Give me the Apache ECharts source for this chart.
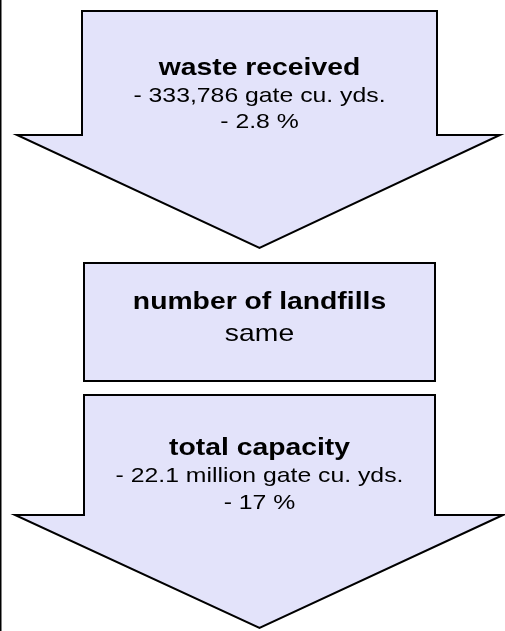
<!doctype html>
<html lang="en">
<head>
    <meta charset="UTF-8">
    <script src="https://cdn.jsdelivr.net/npm/echarts@6/dist/echarts.min.js"></script>
    <title>landfill summary</title>
    <style>
        html, body { margin: 0; padding: 0; background: #fff; }
    </style>
</head>
<body>
<div id="main" style="width: 505px;height:631px;"></div>
</body>
<script>
    // stage texts
    var stageTitles = ['waste received', 'number of landfills', 'total capacity'];
    var stageLines = [
        ['- 333,786 gate cu. yds.', '- 2.8 %'],
        ['same'],
        ['- 22.1 million gate cu. yds.', '- 17 %']
    ];
    var stageShapes = ['arrow', 'box', 'arrow'];

    // shape layout in pixels (grid == whole canvas)
    var layouts = [
        {top: 11, shoulder: 135, bottom: 248, l: 82, r: 437, headL: 17, headR: 500, titleBase: 77, lineBase: [104, 130], lineSize: 21},
        {top: 263, bottom: 381, l: 84, r: 435, titleBase: 311, lineBase: [343], lineSize: 24},
        {top: 395, shoulder: 515, bottom: 628, l: 84, r: 435, headL: 15, headR: 503, titleBase: 457, lineBase: [484, 510.5], lineSize: 21}
    ];

    var fillColor = '#e3e3fa';
    var stretch = 1.18;
    var font = 'Arial, "Liberation Sans", sans-serif';

    var myChart = echarts.init(document.getElementById('main'));

    function textEl(str, cx, base, size, bold, api) {
        var p = api.coord([cx, base - size * 0.35]);
        return {
            type: 'text',
            x: p[0],
            y: p[1],
            scaleX: stretch,
            style: {
                text: str,
                x: 0,
                y: 0,
                fill: '#000',
                font: (bold ? 'bold ' : '') + size + 'px ' + font,
                align: 'center',
                verticalAlign: 'middle'
            }
        };
    }

    function renderItem(params, api) {
        var i = params.dataIndex;
        var lay = layouts[i];
        var pts;
        if (stageShapes[i] === 'arrow') {
            var cx = (lay.headL + lay.headR) / 2;
            pts = [
                [lay.l, lay.top], [lay.r, lay.top], [lay.r, lay.shoulder],
                [lay.headR, lay.shoulder], [(lay.l + lay.r) / 2, lay.bottom],
                [lay.headL, lay.shoulder], [lay.l, lay.shoulder]
            ];
        } else {
            pts = [[lay.l, lay.top], [lay.r, lay.top], [lay.r, lay.bottom], [lay.l, lay.bottom]];
        }
        var pix = pts.map(function (p) { return api.coord(p); });
        var mid = (lay.l + lay.r) / 2;
        var children = [{
            type: 'polygon',
            shape: {points: pix},
            style: {fill: fillColor, stroke: '#000', lineWidth: 2, lineJoin: 'miter'}
        }];
        children.push(textEl(stageTitles[i], mid, lay.titleBase, 24, true, api));
        for (var k = 0; k < stageLines[i].length; k++) {
            children.push(textEl(stageLines[i][k], mid, lay.lineBase[k], lay.lineSize, false, api));
        }
        return {type: 'group', children: children};
    }

    var option = {
        animation: false,
        grid: {left: 0, right: 0, top: 0, bottom: 0},
        xAxis: {type: 'value', min: 0, max: 505, show: false},
        yAxis: {type: 'value', min: 0, max: 631, inverse: true, show: false},
        graphic: [{
            type: 'line',
            shape: {x1: 0.75, y1: 0, x2: 0.75, y2: 631},
            style: {stroke: '#000', lineWidth: 1.5}
        }],
        series: [{
            type: 'custom',
            renderItem: renderItem,
            data: stageTitles.map(function (t, i) { return [i]; }),
            silent: true
        }]
    };

    myChart.setOption(option);
</script>
</html>
